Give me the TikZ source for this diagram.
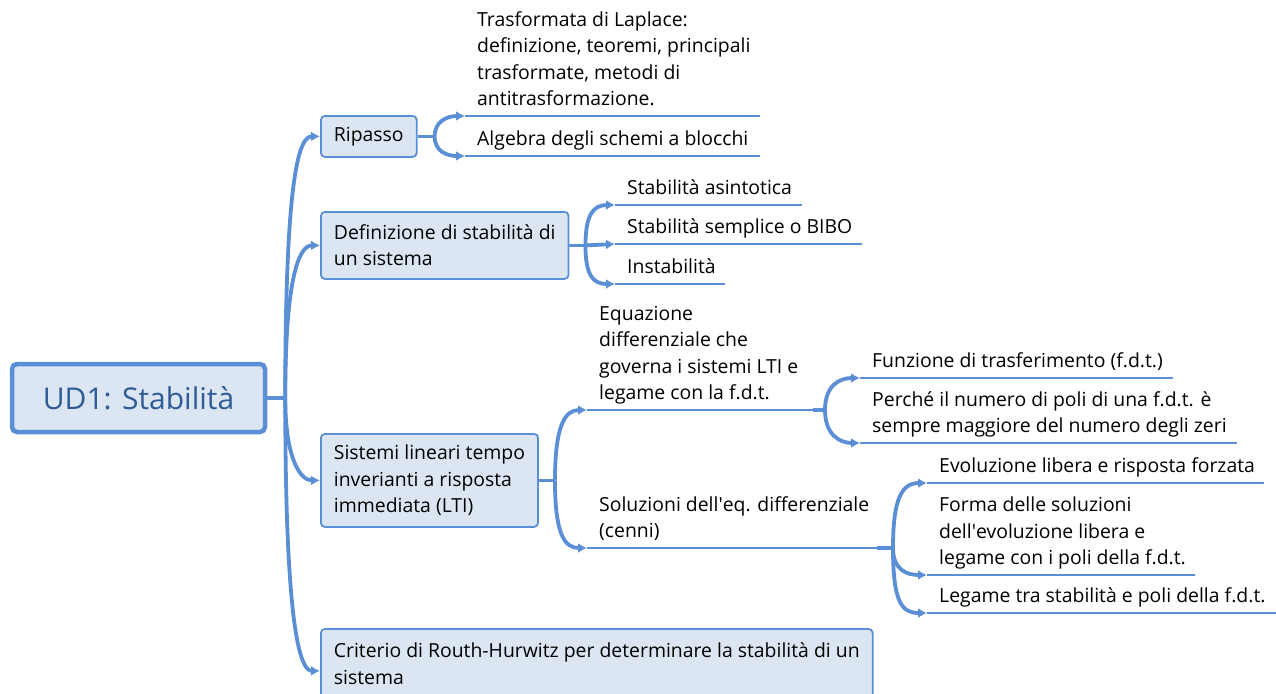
\documentclass[tikz,border=0pt]{standalone}
\usepackage{fontspec}
\setmainfont{Open Sans}
\usepackage{xcolor}
\usepackage{tikz}
\usetikzlibrary{arrows.meta}
\definecolor{Linea}{HTML}{5A8FD6}
\definecolor{Sfondo}{HTML}{DCE6F2}
\definecolor{Titolo}{HTML}{2E5C96}
\tikzset{
  Ramo/.style={draw=Linea, line width=3.8pt, ->}, % rami con freccia
  Gambo/.style={draw=Linea, line width=3.8pt}, % tratto prima della biforcazione
  Riga/.style={draw=Linea, line width=2.5pt}, % sottolineatura delle foglie
  Radice/.style={draw=Linea, fill=Sfondo, line width=4.5pt, rounded corners=5pt,
    minimum width=253pt, minimum height=68pt, text=Titolo,
    font=\fontsize{30}{36}\selectfont},
  Tema/.style={draw=Linea, fill=Sfondo, line width=1.8pt, rounded corners=4pt,
    anchor=north west, align=left, inner xsep=13pt},
  Foglia/.style={anchor=south west, inner xsep=12pt, inner ysep=2pt, align=left,
    execute at end node=\strut}
}

\begin{document}
\begin{tikzpicture}[x=1pt, y=-1pt,
font=\fontsize{19.4}{26.5}\selectfont,
>={Latex[length=9pt,width=10pt]} % punte delle frecce
]
\useasboundingbox (0,0) rectangle (1276,693);

%Nodi principali
\node[Radice] (ud1) at (138.5,398) {UD1: Stabilità};
\node[Tema, minimum height=41pt] (rip) at (320,115) {Ripasso};
\node[Tema, minimum height=67pt] (def) at (320,211) {Definizione di stabilità di\\un sistema};
\node[Tema, minimum height=93pt] (lti) at (320,433) {Sistemi lineari tempo\\inverianti a risposta\\immediata (LTI)};
\node[Tema, minimum height=70pt] (rh) at (320,628) {Criterio di Routh-Hurwitz per determinare la stabilità di un\\sistema};

%Biforcazioni
\coordinate (f0) at ([xshift=18pt]ud1.east);
\coordinate (f1) at ([xshift=17pt]rip.east);
\coordinate (f2) at ([xshift=16pt]def.east);
\coordinate (f3) at ([xshift=16pt]lti.east);
\coordinate (f4) at (825,410);
\coordinate (f5) at (893,548);

%Foglie
\node[Foglia] (lap) at (465,116) {Trasformata di Laplace:\\definizione, teoremi, principali\\trasformate, metodi di\\antitrasformazione.};
\node[Foglia] (alg) at (465,156) {Algebra degli schemi a blocchi};

\node[Foglia] (asi) at (615,205) {Stabilità asintotica};
\node[Foglia] (sem) at (615,244) {Stabilità semplice o BIBO};
\node[Foglia] (ins) at (615,284) {Instabilità};

\node[Foglia] (eq) at (587,410) {Equazione\\differenziale che\\governa i sistemi LTI e\\legame con la f.d.t.};
\node[Foglia] (sol) at (587,548) {Soluzioni dell\textquotesingle eq. differenziale\\(cenni)};

\node[Foglia] (fdt) at (860,378) {Funzione di trasferimento (f.d.t.)};
\node[Foglia] (poli) at (860,443) {Perché il numero di poli di una f.d.t. è\\sempre maggiore del numero degli zeri};

\node[Foglia] (evo) at (927,483) {Evoluzione libera e risposta forzata};
\node[Foglia] (forma) at (927,575) {Forma delle soluzioni\\dell\textquotesingle evoluzione libera e\\legame con i poli della f.d.t.};
\node[Foglia] (leg) at (927,613) {Legame tra stabilità e poli della f.d.t.};

%Sottolineature
\draw[Riga] (lap.south west) -- ++(295,0);
\draw[Riga] (alg.south west) -- ++(295,0);
\draw[Riga] (asi.south west) -- ++(187,0);
\draw[Riga] (sem.south west) -- ++(247,0);
\draw[Riga] (ins.south west) -- ++(110,0);
\draw[Riga] (eq.south west) -- ++(233,0);
\draw[Riga] (sol.south west) -- ++(293,0);
\draw[Riga] (fdt.south west) -- ++(313,0);
\draw[Riga] (poli.south west) -- ++(377,0);
\draw[Riga] (evo.south west) -- ++(337,0);
\draw[Riga] (forma.south west) -- ++(268,0);
\draw[Riga] (leg.south west) -- ++(352,0);

%Rami dalla radice
\draw[Gambo] (ud1.east) -- (f0);
\draw[Ramo] (f0) .. controls +(0,-230) and +(-20,0) .. (rip.west);
\draw[Ramo] (f0) .. controls +(0,-125) and +(-20,0) .. (def.west);
\draw[Ramo] (f0) .. controls +(0,60) and +(-20,0) .. (lti.west);
\draw[Ramo] (f0) .. controls +(0,230) and +(-20,0) .. ([yshift=-7pt]rh.west);

%Rami di Ripasso
\draw[Gambo] (rip.east) -- (f1);
\draw[Ramo] (f1) .. controls +(0,-15) and +(-18,0) .. (lap.south west);
\draw[Ramo] (f1) .. controls +(0,15) and +(-18,0) .. (alg.south west);

%Rami di Definizione
\draw[Gambo] (def.east) -- (f2);
\draw[Ramo] (f2) .. controls +(0,-30) and +(-22,0) .. (asi.south west);
\draw[Ramo] (f2) -- (sem.south west);
\draw[Ramo] (f2) .. controls +(0,30) and +(-22,0) .. (ins.south west);

%Rami dei sistemi LTI
\draw[Gambo] (lti.east) -- (f3);
\draw[Ramo] (f3) .. controls +(0,-55) and +(-22,0) .. (eq.south west);
\draw[Ramo] (f3) .. controls +(0,55) and +(-22,0) .. (sol.south west);

\draw[Gambo] ([xshift=-12pt]f4) -- (f4);
\draw[Ramo] (f4) .. controls +(0,-25) and +(-20,0) .. (fdt.south west);
\draw[Ramo] (f4) .. controls +(0,25) and +(-20,0) .. (poli.south west);

\draw[Gambo] ([xshift=-16pt]f5) -- (f5);
\draw[Ramo] (f5) .. controls +(0,-50) and +(-25,0) .. (evo.south west);
\draw[Ramo] (f5) .. controls +(0,22) and +(-20,0) .. (forma.south west);
\draw[Ramo] (f5) .. controls +(0,55) and +(-25,0) .. (leg.south west);

\end{tikzpicture}
\end{document}
